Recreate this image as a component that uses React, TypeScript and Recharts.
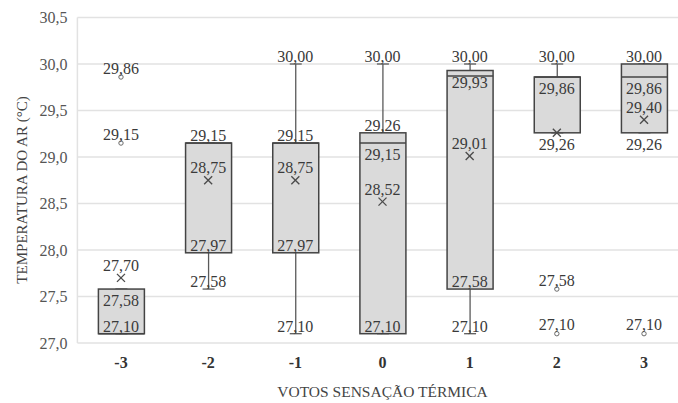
import React from 'react';
import { ComposedChart, Bar, Scatter, XAxis, YAxis, CartesianGrid, Label } from 'recharts';

// Thermal sensation votes and the air temperature statistics for each vote
const categories = ['-3', '-2', '-1', '0', '1', '2', '3'];
const q1Values = [27.1, 27.97, 27.97, 27.1, 27.58, 29.26, 29.26];
const medianValues = [27.1, 29.15, 29.15, 29.15, 29.87, 29.86, 29.86];
const q3Values = [27.58, 29.15, 29.15, 29.26, 29.93, 29.86, 30.0];
const minValues = [27.1, 27.58, 27.1, 27.1, 27.1, 29.26, 29.26];
const maxValues = [27.58, 29.15, 30.0, 30.0, 30.0, 30.0, 30.0];
const meanValues = [27.7, 28.75, 28.75, 28.52, 29.01, 29.26, 29.4];
const outlierValues: number[][] = [[29.86, 29.15], [], [], [], [], [27.58, 27.1], [27.1]];

// values written next to each box
const labelValues: number[][] = [
  [29.86, 29.15, 27.7, 27.58, 27.1],
  [29.15, 28.75, 27.97, 27.58],
  [30.0, 29.15, 28.75, 27.97, 27.1],
  [30.0, 29.26, 29.15, 28.52, 27.1],
  [30.0, 29.93, 29.01, 27.58, 27.1],
  [30.0, 29.86, 29.26, 27.58, 27.1],
  [30.0, 29.86, 29.4, 29.26, 27.1],
];
// labels that sit under their value instead of over it
const labelsBelow: number[][] = [[27.58], [], [], [29.15], [29.93], [29.86, 29.26], [29.86, 29.26]];

const yTicks = [27, 27.5, 28, 28.5, 29, 29.5, 30, 30.5];

const boxRows = categories.map((cat, i) => ({
  cat,
  whisker: [minValues[i], maxValues[i]],
  box: [q1Values[i], q3Values[i]],
  q1: q1Values[i],
  q3: q3Values[i],
  median: medianValues[i],
}));

const meanPoints = categories.map((cat, i) => ({ cat, value: meanValues[i] }));
const outlierPoints = categories.flatMap((cat, i) => outlierValues[i].map((value) => ({ cat, value })));
const labelPoints = categories.flatMap((cat, i) =>
  labelValues[i].map((value) => ({
    cat,
    value,
    below: labelsBelow[i].includes(value),
    isMean: value === meanValues[i],
    isOutlier: outlierValues[i].includes(value),
  }))
);

const FONT = "'Liberation Serif', serif";
const fmt = (v: number, digits: number) => v.toFixed(digits).replace('.', ',');

const WhiskerShape = (props: any) => {
  const { x, y, width, height } = props;
  const cx = x + width / 2;
  const top = Math.min(y, y + height);
  const bottom = Math.max(y, y + height);
  const stroke = '#5a5a5a';
  return (
    <g>
      <line x1={cx} x2={cx} y1={top} y2={bottom} stroke={stroke} strokeWidth={1.3} />
      <line x1={cx - 6} x2={cx + 6} y1={top} y2={top} stroke={stroke} strokeWidth={1.3} />
      <line x1={cx - 6} x2={cx + 6} y1={bottom} y2={bottom} stroke={stroke} strokeWidth={1.3} />
    </g>
  );
};

const BoxShape = (props: any) => {
  const { x, y, width, height, payload } = props;
  const top = Math.min(y, y + height);
  const h = Math.abs(height);
  const span = payload.q3 - payload.q1;
  const my = span > 0 ? top + (h * (payload.q3 - payload.median)) / span : top;
  return (
    <g>
      <rect x={x} y={top} width={width} height={h} fill="#dadada" stroke="#444" strokeWidth={1.5} />
      <line x1={x} x2={x + width} y1={my} y2={my} stroke="#444" strokeWidth={1.5} />
    </g>
  );
};

const MeanShape = (props: any) => {
  const { cx, cy } = props;
  const s = 4;
  return (
    <g stroke="#4a4a4a" strokeWidth={1.3}>
      <line x1={cx - s} y1={cy - s} x2={cx + s} y2={cy + s} />
      <line x1={cx - s} y1={cy + s} x2={cx + s} y2={cy - s} />
    </g>
  );
};

const OutlierShape = (props: any) => {
  const { cx, cy } = props;
  return <circle cx={cx} cy={cy} r={2.2} fill="none" stroke="#6a6a6a" strokeWidth={1} />;
};

const ValueLabel = (props: any) => {
  const { cx, cy, payload } = props;
  let dy = -2;
  if (payload.below) dy = 17;
  else if (payload.isMean) dy = -7;
  else if (payload.isOutlier) dy = -3.5;
  return (
    <text x={cx} y={cy + dy} textAnchor="middle" style={{ fontFamily: FONT, fontSize: 16 }} fill="#3a3a3a">
      {fmt(payload.value, 2)}
    </text>
  );
};

export default function App() {
  return (
    <div style={{ position: 'absolute', left: 0, top: 0, width: 678, height: 403, overflow: 'hidden', background: '#fff', fontFamily: FONT }}>
      <ComposedChart
        width={690}
        height={403}
        data={boxRows}
        margin={{ top: 17.5, right: 2.4, bottom: 0, left: 0 }}
        barGap={-46}
        style={{ fontFamily: FONT }}
      >
        <CartesianGrid vertical={false} stroke="#e2e2e2" strokeWidth={1.5} />
        <XAxis
          dataKey="cat"
          type="category"
          allowDuplicatedCategory={false}
          height={60}
          axisLine={false}
          tickLine={false}
          tickSize={0}
          tickMargin={14}
          tick={{ fontSize: 16, fontWeight: 'bold', fill: '#333', style: { fontFamily: FONT } }}
        >
          <Label
            content={() => (
              <text x={382.5} y={397} textAnchor="middle" style={{ fontFamily: FONT, fontSize: 15.5 }} fill="#444">
                VOTOS SENSAÇÃO TÉRMICA
              </text>
            )}
          />
        </XAxis>
        <YAxis
          type="number"
          domain={[27, 30.5]}
          ticks={yTicks}
          width={77.4}
          axisLine={{ stroke: '#e2e2e2', strokeWidth: 1.5 }}
          tickLine={false}
          tickSize={0}
          tickMargin={10}
          tickFormatter={(v: number) => fmt(v, 1)}
          tick={{ fontSize: 16, fill: '#555', style: { fontFamily: FONT } }}
        >
          <Label
            content={() => (
              <text
                x={22}
                y={190}
                textAnchor="middle"
                dominantBaseline="central"
                transform="rotate(-90, 22, 190)"
                style={{ fontFamily: FONT, fontSize: 15 }}
                fill="#444"
              >
                TEMPERATURA  DO AR (°C)
              </text>
            )}
          />
        </YAxis>
        <Bar dataKey="whisker" barSize={46} shape={WhiskerShape} isAnimationActive={false} />
        <Bar dataKey="box" barSize={46} shape={BoxShape} isAnimationActive={false} />
        <Scatter data={outlierPoints} dataKey="value" shape={OutlierShape} isAnimationActive={false} />
        <Scatter data={meanPoints} dataKey="value" shape={MeanShape} isAnimationActive={false} />
        <Scatter data={labelPoints} dataKey="value" shape={ValueLabel} isAnimationActive={false} />
      </ComposedChart>
    </div>
  );
}
